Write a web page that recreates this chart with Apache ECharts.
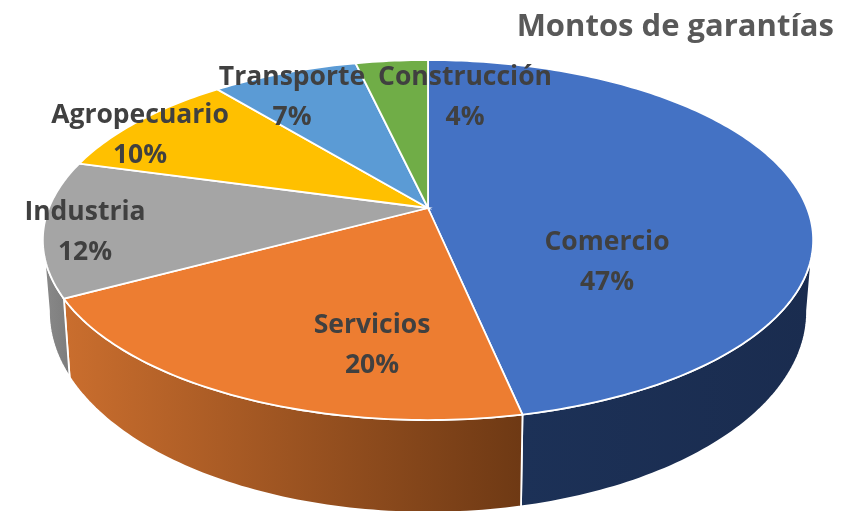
<!DOCTYPE html>
<html>
<head>
<meta charset="utf-8">
<style>
  html, body { margin: 0; padding: 0; background: #fff; }
  #chart { width: 861px; height: 511px; }
</style>
<script src="https://cdn.jsdelivr.net/npm/echarts@6/dist/echarts.min.js"></script>
</head>
<body>
<div id="chart"></div>
<script>
var categories = ["Comercio", "Servicios", "Industria", "Agropecuario", "Transporte", "Construcción"];
var values = [46.7, 20.4, 12.2, 9.8, 7.3, 3.6];

var topColors = ["#4472c4", "#ed7d31", "#a5a5a5", "#ffc000", "#5b9bd5", "#70ad47"];
var sideColors = [
  ["#1c3157", "#1a2c4f"],
  ["#ca6e2e", "#6e3914"],
  ["#8a8a8a", "#7c7c7c"],
  ["#997300", "#997300"],
  ["#2e75b6", "#2e75b6"],
  ["#43682b", "#43682b"]
];
// label centres, two lines each
var labelAt = [[607, 262], [372, 345], [85, 232], [140, 135], [292, 97], [465, 97]];

// perspective of the disc: top face and the lower rim of the side
var topDisc = { x: 428, y: 208, a: 379, b: 174.3, k: 0.178 };
var lowDisc = { x: 428, y: 276, a: 373, b: 194.5, k: 0.178 };
var sideFrom = 100, sideTo = 260; // degrees of the rim that face the viewer

var total = values.reduce(function (s, v) { return s + v; }, 0);
var starts = [];
var run = 0;
values.forEach(function (v) {
  starts.push(run / total * 360);
  run += v;
});

function project(disc, deg) {
  var t = deg * Math.PI / 180;
  var u = Math.sin(t), v = Math.cos(t);
  var w = 1 + disc.k * v;
  return [disc.x + disc.a * u / w, disc.y - disc.b * v / w];
}

function rim(disc, from, to) {
  var pts = [];
  var n = Math.max(2, Math.ceil(Math.abs(to - from)));
  for (var i = 0; i <= n; i++) {
    pts.push(project(disc, from + (to - from) * i / n));
  }
  return pts;
}

function renderSide(params, api) {
  var i = params.dataIndex;
  var from = Math.max(starts[i], sideFrom);
  var to = Math.min(starts[i] + api.value(0) / total * 360, sideTo);
  if (to <= from) return null;
  var pts = rim(topDisc, from, to).concat(rim(lowDisc, to, from));
  return {
    type: "polygon",
    shape: { points: pts },
    style: {
      fill: new echarts.graphic.LinearGradient(0, 0, 1, 0, [
        { offset: 0, color: sideColors[i][0] },
        { offset: 1, color: sideColors[i][1] }
      ]),
      stroke: "#fff",
      lineWidth: 1.8
    }
  };
}

function renderFace(params, api) {
  var i = params.dataIndex;
  var from = starts[i];
  var to = from + api.value(0) / total * 360;
  var pts = [[topDisc.x, topDisc.y]].concat(rim(topDisc, from, to));
  return {
    type: "polygon",
    shape: { points: pts },
    style: { fill: topColors[i], stroke: "#fff", lineWidth: 1.8 }
  };
}

function renderLabel(params, api) {
  var i = params.dataIndex;
  return {
    type: "text",
    x: labelAt[i][0],
    y: labelAt[i][1],
    style: {
      text: categories[i] + "\n" + Math.round(api.value(0) / total * 100) + "%",
      fill: "#404040",
      font: "bold 26.5px 'Open Sans'",
      lineHeight: 40,
      align: "center",
      verticalAlign: "middle"
    }
  };
}

var chart = echarts.init(document.getElementById("chart"));
chart.setOption({
  animation: false,
  backgroundColor: "#fff",
  title: {
    text: "Montos de garantías",
    right: 22,
    top: 7,
    textStyle: { color: "#595959", fontSize: 31, fontWeight: "bold", fontFamily: "Open Sans" }
  },
  series: [
    { type: "custom", coordinateSystem: "none", data: values, renderItem: renderSide, silent: true, z: 1 },
    { type: "custom", coordinateSystem: "none", data: values, renderItem: renderFace, silent: true, z: 2 },
    { type: "custom", coordinateSystem: "none", data: values, renderItem: renderLabel, silent: true, z: 3 }
  ]
});
</script>
</body>
</html>
